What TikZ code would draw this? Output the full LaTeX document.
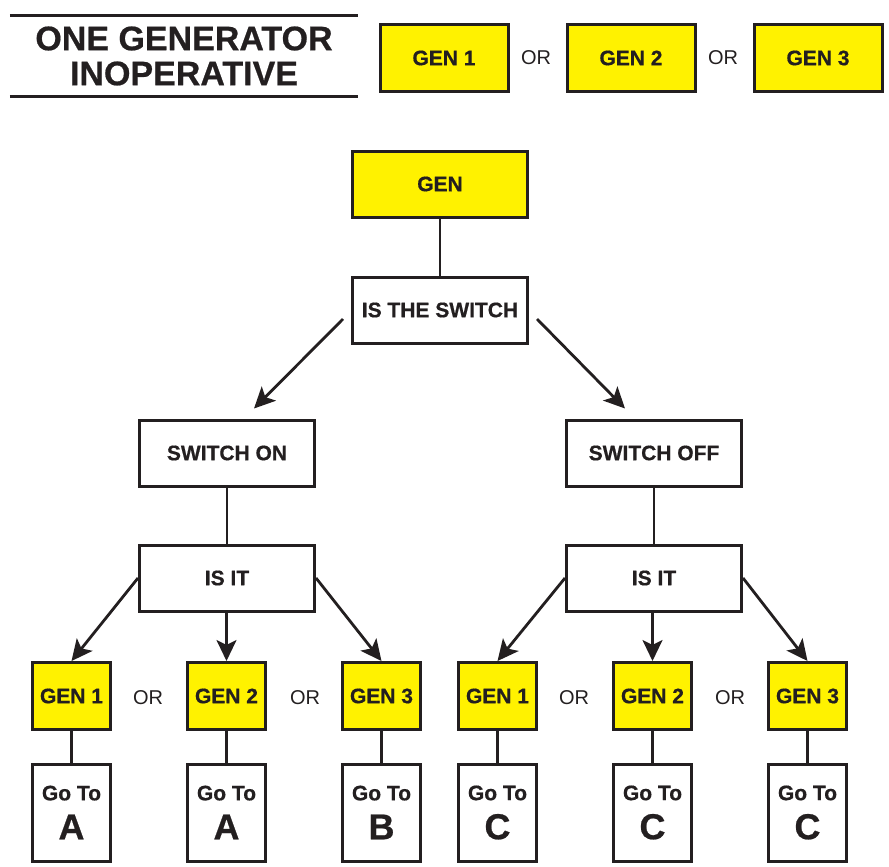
\documentclass[tikz,border=0pt]{standalone}
\usepackage{fontspec}
\setmainfont{Liberation Sans}[BoldFeatures={FakeBold=0.6}]
\usetikzlibrary{arrows.meta}
\definecolor{genyellow}{HTML}{FFF200}
\definecolor{inkblack}{HTML}{231F20}
\begin{document}
\begin{tikzpicture}[
    x=1pt, y=-1pt,
    every node/.style={text=inkblack, font=\bfseries\fontsize{21}{24}\selectfont},
    % Boîtes
    box/.style={draw=inkblack, line width=3pt, inner sep=0pt, minimum height=66pt},
    bigbox/.style={box, minimum width=175pt},
    topgen/.style={box, fill=genyellow, minimum width=128pt},
    genbox/.style={box, fill=genyellow, minimum width=78pt, minimum height=67pt},
    gotobox/.style={box, minimum width=78pt, minimum height=97pt, align=center,
        font=\bfseries\fontsize{21}{39}\selectfont},
    orlabel/.style={font=\fontsize{20}{24}\selectfont},
    % Liens
    link/.style={draw=inkblack, line width=2.8pt},
    arrow/.style={link, -{Stealth[length=21pt,width=20pt,inset=5pt]}}
]
\useasboundingbox (0,0) rectangle (889,867);

% Titre
\node[minimum width=348pt, minimum height=80pt, inner sep=0pt, align=center,
      font=\bfseries\fontsize{34}{35}\selectfont] (title) at (184,56)
      {ONE GENERATOR\\INOPERATIVE};
\draw[link] (title.north west) -- (title.north east);
\draw[link] (title.south west) -- (title.south east);

\node[topgen] (top1) at (444,58) {GEN 1};
\node[orlabel] (topor1) at (536,58) {OR};
\node[topgen] (top2) at (631,58) {GEN 2};
\node[orlabel] (topor2) at (723,58) {OR};
\node[topgen] (top3) at (818,58) {GEN 3};

% Racine
\node[bigbox, fill=genyellow] (gen) at (440,184) {GEN};
\node[bigbox] (switch) at (440,310) {IS THE SWITCH};
\draw[link] (gen) -- (switch);

\node[bigbox] (swon) at (227,453) {SWITCH ON};
\node[bigbox] (swoff) at (654,453) {SWITCH OFF};
\draw[arrow] ([shift={(-8,9)}]switch.west) -- ([shift={(27,-10)}]swon.north);
\draw[arrow] ([shift={(8,9)}]switch.east) -- ([shift={(-29,-10)}]swoff.north);

\node[bigbox] (isitl) at (227,578) {IS IT};
\node[bigbox] (isitr) at (654,578) {IS IT};
\draw[link] (swon) -- (isitl);
\draw[link] (swoff) -- (isitr);

% Branche gauche
\node[genbox] (lgen1) at (71.5,696) {GEN 1};
\node[orlabel] (lor1) at (148,698) {OR};
\node[genbox] (lgen2) at (226.5,696) {GEN 2};
\node[orlabel] (lor2) at (305,698) {OR};
\node[genbox] (lgen3) at (381.5,696) {GEN 3};
\draw[arrow] (isitl.west) -- (lgen1.north);
\draw[arrow] (isitl.south -| lgen2.north) -- (lgen2.north);
\draw[arrow] (isitl.east) -- (lgen3.north);

\node[gotobox] (lgo1) at (71.5,812.5) {Go To\\\fontsize{36}{39}\selectfont A};
\node[gotobox] (lgo2) at (226.5,812.5) {Go To\\\fontsize{36}{39}\selectfont A};
\node[gotobox] (lgo3) at (381.5,812.5) {Go To\\\fontsize{36}{39}\selectfont B};
\draw[link] (lgen1) -- (lgo1);
\draw[link] (lgen2) -- (lgo2);
\draw[link] (lgen3) -- (lgo3);

% Branche droite
\node[genbox] (rgen1) at (497.5,696) {GEN 1};
\node[orlabel] (ror1) at (574,698) {OR};
\node[genbox] (rgen2) at (652.5,696) {GEN 2};
\node[orlabel] (ror2) at (730,698) {OR};
\node[genbox] (rgen3) at (807.5,696) {GEN 3};
\draw[arrow] (isitr.west) -- (rgen1.north);
\draw[arrow] (isitr.south -| rgen2.north) -- (rgen2.north);
\draw[arrow] (isitr.east) -- (rgen3.north);

\node[gotobox] (rgo1) at (497.5,812.5) {Go To\\\fontsize{36}{39}\selectfont C};
\node[gotobox] (rgo2) at (652.5,812.5) {Go To\\\fontsize{36}{39}\selectfont C};
\node[gotobox] (rgo3) at (807.5,812.5) {Go To\\\fontsize{36}{39}\selectfont C};
\draw[link] (rgen1) -- (rgo1);
\draw[link] (rgen2) -- (rgo2);
\draw[link] (rgen3) -- (rgo3);
\end{tikzpicture}
\end{document}
